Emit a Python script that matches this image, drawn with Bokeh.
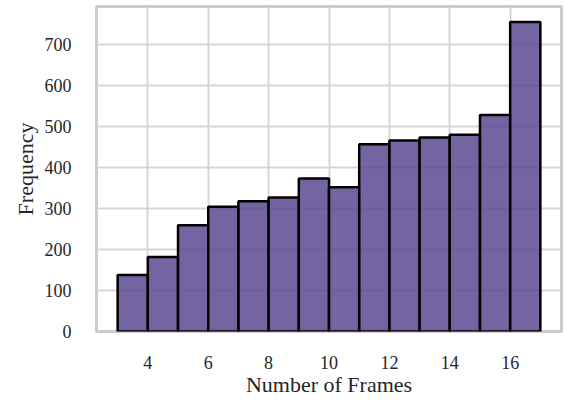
from bokeh.plotting import figure
from bokeh.models import FixedTicker, Range1d
from bokeh.embed import file_html
from bokeh.resources import INLINE

# Histogram data
bin_edges = [3, 4, 5, 6, 7, 8, 9, 10, 11, 12, 13, 14, 15, 16, 17]
counts = [138, 182, 259, 304, 318, 327, 373, 352, 457, 466, 473, 480, 528, 755]
x_ticks = [4, 6, 8, 10, 12, 14, 16]
y_ticks = [0, 100, 200, 300, 400, 500, 600, 700]

lefts = bin_edges[:-1]
rights = bin_edges[1:]
span = bin_edges[-1] - bin_edges[0]

p = figure(width=564, height=403, output_backend="svg", toolbar_location=None,
           x_range=Range1d(bin_edges[0] - 0.05 * span, bin_edges[-1] + 0.05 * span),
           y_range=Range1d(0, max(counts) * 1.05),
           min_border_left=96, min_border_right=3, min_border_top=6, min_border_bottom=72)

p.quad(left=lefts, right=rights, bottom=0, top=counts,
       fill_color="#5c4a92", fill_alpha=0.85, line_color="black", line_width=2.5)

font = "Liberation Serif"
for ax in (p.xaxis, p.yaxis):
    ax.axis_line_color = None
    ax.major_tick_line_color = None
    ax.minor_tick_line_color = None
    ax.major_tick_out = 0
    ax.major_tick_in = 0
    ax.major_label_text_font = font
    ax.major_label_text_font_size = "18px"
    ax.major_label_text_color = "#262626"
    ax.axis_label_text_font = font
    ax.axis_label_text_font_size = "22px"
    ax.axis_label_text_font_style = "normal"
    ax.axis_label_text_color = "#262626"

p.xaxis.ticker = FixedTicker(ticks=x_ticks)
p.yaxis.ticker = FixedTicker(ticks=y_ticks)
p.xaxis.major_label_standoff = 24
p.yaxis.major_label_standoff = 25
p.xaxis.axis_label = "Number of Frames"
p.yaxis.axis_label = "Frequency"
p.xaxis.axis_label_standoff = 0
p.yaxis.axis_label_standoff = 4

p.grid.grid_line_color = "#d6d6d6"
p.grid.grid_line_width = 2
p.outline_line_color = "#cccccc"
p.outline_line_width = 3
p.outline_line_alpha = 1.0

open("out.html", "w").write(file_html(p, INLINE))
